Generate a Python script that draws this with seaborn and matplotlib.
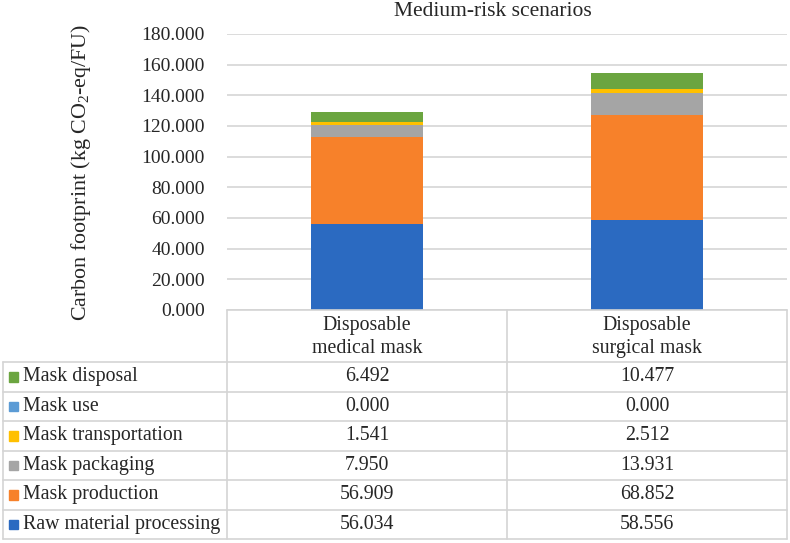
import numpy as np
import matplotlib
matplotlib.use("Agg")
import matplotlib.pyplot as plt
import seaborn as sns

categories = ["Disposable\nmedical mask", "Disposable\nsurgical mask"]
# stacking order, bottom to top
components = ["Raw material processing", "Mask production", "Mask packaging",
              "Mask transportation", "Mask use", "Mask disposal"]
raw_material = [56.034, 58.556]
production = [56.909, 68.852]
packaging = [7.950, 13.931]
transportation = [1.541, 2.512]
use = [0.000, 0.000]
disposal = [6.492, 10.477]
series = [raw_material, production, packaging, transportation, use, disposal]
colors = ["#2B6AC1", "#F7812A", "#A5A5A5", "#FFC000", "#5B9BD5", "#6BA540"]
yticks = np.arange(0, 181, 20)

sns.set_style("white")
plt.rcParams["font.family"] = ["Liberation Serif", "DejaVu Serif"]
plt.rcParams["mathtext.default"] = "regular"

W, H = 790, 543
fig = plt.figure(figsize=(W / 100, H / 100), dpi=100)
x0, x1, ytop, ybot = 227, 787, 34, 310
ax = fig.add_axes([x0 / W, 1 - ybot / H, (x1 - x0) / W, (ybot - ytop) / H])

bottom = np.zeros(len(categories))
for name, vals, col in zip(components, series, colors):
    sns.barplot(x=categories, y=vals, bottom=bottom, color=col, width=0.4,
                errorbar=None, saturation=1, ax=ax, linewidth=0)
    bottom += np.array(vals)

ax.set_ylim(0, 180)
ax.set_xlim(-0.5, 1.5)
ax.set_yticks(yticks)
ax.set_yticklabels([f"{v:.3f}" for v in yticks], fontsize=14)
ax.set_xticks([])
ax.tick_params(axis="y", length=0, pad=16)
ax.yaxis.grid(True, color="#D9D9D9", lw=1.3)
ax.set_axisbelow(True)
for s in ax.spines.values():
    s.set_visible(False)
ax.set_ylabel("Carbon footprint (kg CO$_{2}$-eq/FU)", fontsize=15.8)
ax.yaxis.set_label_coords(-0.24, 0.5)

fig.text(493 / W, 1 - 12 / H, "Medium-risk scenarios",
         ha="center", va="center", fontsize=15.5)

# data table below the axis
tab = fig.add_axes([0, 0, 1, 1])
tab.set_xlim(0, W)
tab.set_ylim(H, 0)
tab.set_axis_off()
tab.patch.set_alpha(0)
lc, lw = "#D4D4D4", 1.2
col_edges = [x0, 507, x1]
row_top, row_h = 362, 29.5
n = len(components)
tab.plot([x0, x1], [ybot, ybot], color=lc, lw=lw)
for i in range(n + 1):
    y = row_top + i * row_h
    tab.plot([3, x1], [y, y], color=lc, lw=lw)
tab.plot([3, 3], [row_top, row_top + n * row_h], color=lc, lw=lw)
for xe in col_edges:
    tab.plot([xe, xe], [ybot, row_top + n * row_h], color=lc, lw=lw)

for j, cat in enumerate(categories):
    xc = 0.5 * (col_edges[j] + col_edges[j + 1])
    tab.text(xc, 0.5 * (ybot + row_top) + 1, cat, ha="center", va="center",
             fontsize=14.3, linespacing=1.35)

for i, (name, vals, col) in enumerate(zip(components[::-1], series[::-1], colors[::-1])):
    yc = row_top + (i + 0.5) * row_h
    tab.add_patch(plt.Rectangle((8.5, yc - 4.5), 9.5, 9.5, color=col))
    tab.text(23, yc, name, ha="left", va="center", fontsize=14.3)
    for j, v in enumerate(vals):
        xc = 0.5 * (col_edges[j] + col_edges[j + 1])
        tab.text(xc, yc, f"{v:.3f}", ha="center", va="center", fontsize=14.3)

fig.savefig("out.png", dpi=100)
